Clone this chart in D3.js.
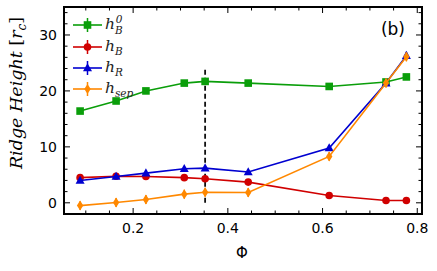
<!DOCTYPE html>
<html>
<head>
<meta charset="utf-8">
<script src="https://cdn.jsdelivr.net/npm/d3@7"></script>
<style>
  body { margin: 0; background: #fff; }
  text { font-family: "DejaVu Sans", sans-serif; }
  .math { font-family: "DejaVu Serif", serif; font-style: italic; }
</style>
</head>
<body>
<div id="chart"></div>
<script>
// data
var phi = [0.088, 0.164, 0.227, 0.308, 0.352, 0.443, 0.614, 0.734, 0.777]
var hB0 = [16.4, 18.2, 20.0, 21.4, 21.7, 21.4, 20.8, 21.6, 22.5]
var hB = [4.5, 4.75, 4.7, 4.5, 4.3, 3.7, 1.3, 0.4, 0.4]
var hR = [4.0, 4.7, 5.3, 6.1, 6.2, 5.5, 9.8, 21.4, 26.3]
var hSep = [-0.5, 0.05, 0.6, 1.55, 1.9, 1.85, 8.3, 21.4, 26.1]
var errB0 = [0.4, 0.4, 0.4, 0.4, 0.5, 0.4, 0.4, 0.5, 0.5]
var errB = [0.3, 0.3, 0.3, 0.3, 0.3, 0.3, 0.3, 0.3, 0.3]
var errR = [0.4, 0.4, 0.4, 0.4, 0.4, 0.4, 0.5, 0.6, 0.7]
var errSep = [0.8, 0.8, 0.8, 0.8, 0.8, 0.8, 0.8, 0.8, 0.8]
var xTicks = [0.2, 0.4, 0.6, 0.8]
var yTicks = [0, 10, 20, 30]
var phiStar = 0.352

var series = [
    { name: "B", sup: "0", vals: hB0, err: errB0, color: "#0a9e0a", marker: "square" },
    { name: "B", sup: "", vals: hB, err: errB, color: "#d00000", marker: "circle" },
    { name: "R", sup: "", vals: hR, err: errR, color: "#0000d0", marker: "triangle" },
    { name: "sep", sup: "", vals: hSep, err: errSep, color: "#ff8800", marker: "diamond" }
]

var W = 437, H = 271
var margin = { top: 7, right: 15, bottom: 57, left: 64 },
    width = W - margin.left - margin.right,
    height = H - margin.top - margin.bottom;

var svg = d3.select("#chart").append("svg")
    .attr("width", W).attr("height", H)

var g = svg.append("g")
    .attr("transform", "translate(" + margin.left + "," + margin.top + ")")

var x = d3.scaleLinear().domain([0.054, 0.81]).range([0, width])
var y = d3.scaleLinear().domain([-2, 35]).range([height, 0])

// ticks (inward, all four sides)
var xMinor = d3.range(0.05, 0.81, 0.05).filter(function (v) { return v > 0.054 })
var yMinor = d3.range(-2, 35, 2)

function tickAxes() {
    var ax = g.append("g").attr("class", "ticks")
    var t = ax.append("g").attr("stroke", "#000").attr("stroke-width", 1)
    xMinor.forEach(function (v) {
        var big = xTicks.some(function (m) { return Math.abs(m - v) < 1e-6 })
        var L = big ? 6 : 3.5
        t.append("line").attr("x1", x(v)).attr("x2", x(v)).attr("y1", height).attr("y2", height - L)
        t.append("line").attr("x1", x(v)).attr("x2", x(v)).attr("y1", 0).attr("y2", L)
    })
    yMinor.forEach(function (v) {
        var big = yTicks.indexOf(v) >= 0
        var L = big ? 6 : 3.5
        t.append("line").attr("x1", 0).attr("x2", L).attr("y1", y(v)).attr("y2", y(v))
        t.append("line").attr("x1", width).attr("x2", width - L).attr("y1", y(v)).attr("y2", y(v))
    })
    ax.selectAll(".xl").data(xTicks).enter().append("text")
        .attr("x", function (d) { return x(d) }).attr("y", height + 19)
        .attr("text-anchor", "middle").attr("font-size", 14)
        .text(function (d) { return d3.format(".1f")(d) })
    ax.selectAll(".yl").data(yTicks).enter().append("text")
        .attr("x", -7).attr("y", function (d) { return y(d) + 5 })
        .attr("text-anchor", "end").attr("font-size", 14)
        .text(function (d) { return d })
}
tickAxes()

// dashed line
g.append("line")
    .attr("x1", x(phiStar)).attr("x2", x(phiStar))
    .attr("y1", y(0)).attr("y2", y(24))
    .attr("stroke", "#111").attr("stroke-width", 1.8)
    .attr("stroke-dasharray", "5,3")

function drawMarker(sel, type, color, cx, cy) {
    if (type == "square") {
        sel.append("rect").attr("x", cx - 3.8).attr("y", cy - 3.8).attr("width", 7.6).attr("height", 7.6).attr("fill", color)
    } else if (type == "circle") {
        sel.append("circle").attr("cx", cx).attr("cy", cy).attr("r", 3.8).attr("fill", color)
    } else if (type == "triangle") {
        sel.append("path").attr("d", "M" + cx + "," + (cy - 4.8) + "L" + (cx + 4.5) + "," + (cy + 3.3) + "L" + (cx - 4.5) + "," + (cy + 3.3) + "Z").attr("fill", color)
    } else {
        sel.append("path").attr("d", "M" + cx + "," + (cy - 5) + "L" + (cx + 3.2) + "," + cy + "L" + cx + "," + (cy + 5) + "L" + (cx - 3.2) + "," + cy + "Z").attr("fill", color)
    }
}

var line = d3.line()
    .x(function (d, i) { return x(phi[i]) })
    .y(function (d) { return y(d) })

series.forEach(function (s) {
    var sg = g.append("g")
    sg.append("path").datum(s.vals)
        .attr("d", line).attr("fill", "none")
        .attr("stroke", s.color).attr("stroke-width", 1.6)
    s.vals.forEach(function (v, i) {
        sg.append("line")
            .attr("x1", x(phi[i])).attr("x2", x(phi[i]))
            .attr("y1", y(v - s.err[i])).attr("y2", y(v + s.err[i]))
            .attr("stroke", s.color).attr("stroke-width", 1.5)
        drawMarker(sg, s.marker, s.color, x(phi[i]), y(v))
    })
})

// legend
var legY = [25, 47, 68, 89]
series.forEach(function (s, i) {
    var lg = svg.append("g")
    var ly = legY[i]
    lg.append("line").attr("x1", 73).attr("x2", 102).attr("y1", ly).attr("y2", ly)
        .attr("stroke", s.color).attr("stroke-width", 1.6)
    lg.append("line").attr("x1", 87.5).attr("x2", 87.5).attr("y1", ly - 7).attr("y2", ly + 7)
        .attr("stroke", s.color).attr("stroke-width", 1.5)
    drawMarker(lg, s.marker, s.color, 87.5, ly)
    var t = lg.append("text").attr("class", "math").attr("x", 105).attr("y", ly + 4)
        .attr("font-size", 15.5).attr("fill", "#222")
    t.append("tspan").text("h")
    if (s.sup) {
        t.append("tspan").attr("font-size", 10.5).attr("dy", 5).text(s.name)
        t.append("tspan").attr("font-size", 10.5).attr("dx", -7).attr("dy", -11).text(s.sup)
    } else {
        t.append("tspan").attr("font-size", 10.5).attr("dy", 4).text(s.name)
    }
})

// frame
g.append("rect").attr("x", 0).attr("y", 0).attr("width", width).attr("height", height)
    .attr("fill", "none").attr("stroke", "#000").attr("stroke-width", 2)

// panel label
svg.append("text").attr("x", 405).attr("y", 35).attr("text-anchor", "end")
    .attr("font-size", 17).text("(b)")

// axis labels
svg.append("text").attr("class", "math")
    .attr("transform", "translate(22," + (margin.top + 86) + ") rotate(-90)")
    .attr("text-anchor", "middle").attr("font-size", 17.5)
    .html('Ridge Height <tspan font-style="normal">[</tspan>r<tspan font-size="12" dy="4">c</tspan><tspan font-style="normal" dy="-4">]</tspan>')

svg.append("text").attr("x", 242).attr("y", 258)
    .attr("text-anchor", "middle").attr("font-size", 15)
    .attr("font-family", "DejaVu Serif, serif").text("Φ")
</script>
</body>
</html>
